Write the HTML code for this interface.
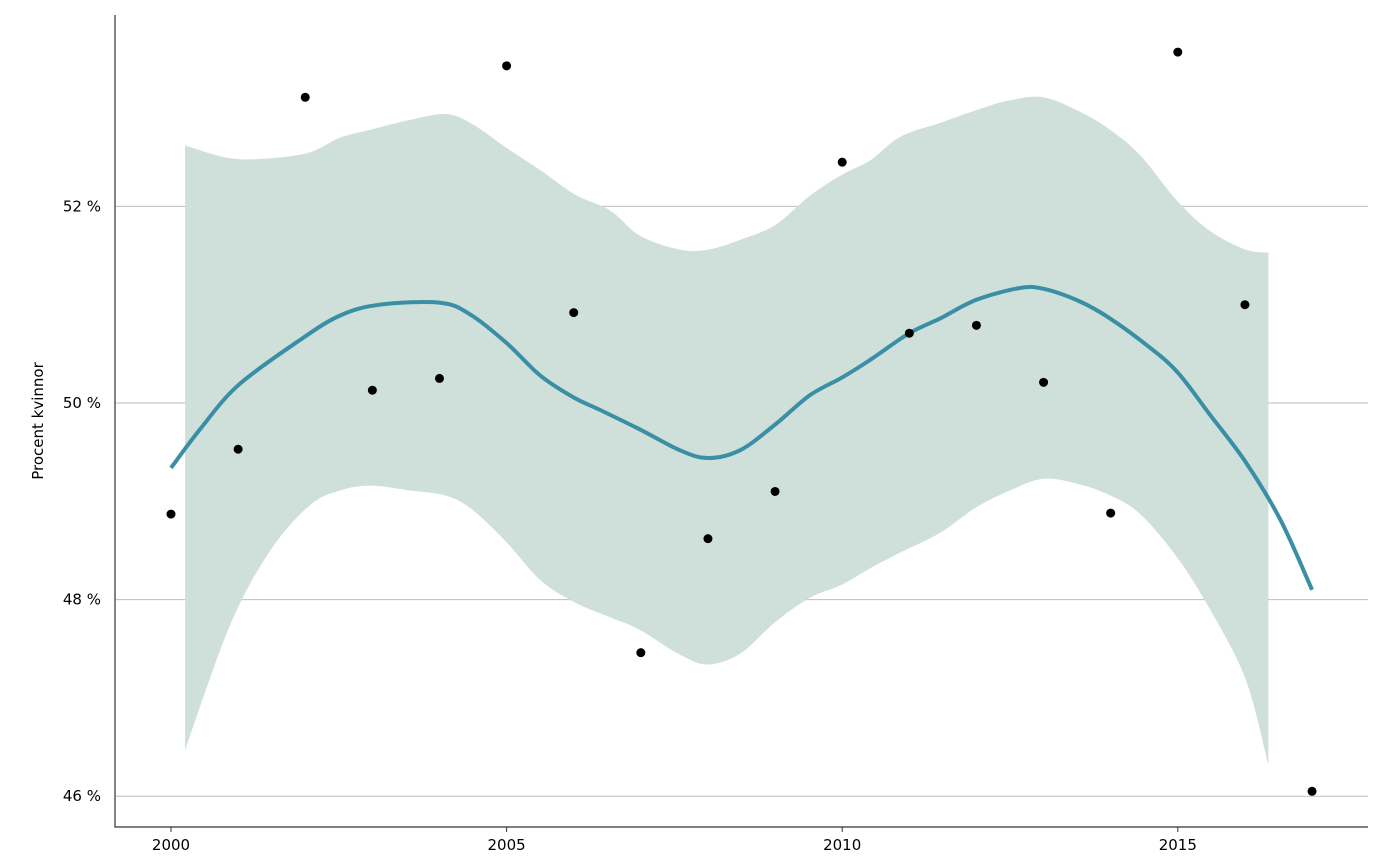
<!DOCTYPE html>
<html><head><meta charset="utf-8"><style>
body{margin:0;background:#fff}
svg{display:block;font-family:"DejaVu Sans","Liberation Sans",sans-serif}
</style></head><body>
<svg id="chart" width="1400" height="866">
<g id="grid"></g>
<g id="band"></g>
<g id="line"></g>
<g id="pts"></g>
<g id="axes"></g>
<text x="43" y="421" transform="rotate(-90 43 421)" text-anchor="middle" font-size="15">Procent kvinnor</text>
</svg>
<script>
const years=[2000,2001,2002,2003,2004,2005,2006,2007,2008,2009,2010,2011,2012,2013,2014,2015,2016,2017];
const values=[48.87,49.53,53.11,50.13,50.25,53.43,50.92,47.46,48.62,49.10,52.45,50.71,50.79,50.21,48.88,53.57,51.00,46.05];
const lineYears=[2000,2000.43,2001,2001.92,2002.52,2003.11,2004.01,2004.46,2005,2005.5,2005.99,2006.39,2006.99,2007.58,2008,2008.48,2009,2009.52,2010,2010.42,2011,2011.46,2012,2012.65,2013.01,2013.55,2013.99,2014.59,2015,2015.48,2016.01,2016.53,2017];
const lineValues=[49.34,49.73,50.18,50.64,50.89,51.00,51.02,50.90,50.61,50.28,50.06,49.93,49.73,49.52,49.44,49.52,49.78,50.08,50.26,50.44,50.71,50.86,51.05,51.17,51.16,51.03,50.86,50.56,50.31,49.88,49.40,48.81,48.10];
const bandYears=[2000.21,2000.88,2001.48,2002.07,2002.52,2002.97,2003.56,2004.08,2004.46,2004.99,2005.5,2006.02,2006.54,2006.99,2007.58,2008,2008.48,2009,2009.52,2009.99,2010.42,2010.87,2011.46,2012,2012.5,2013,2013.55,2013.99,2014.44,2015,2015.48,2016.01,2016.35];
const bandUpper=[52.62,52.49,52.49,52.55,52.70,52.78,52.88,52.94,52.85,52.60,52.37,52.12,51.96,51.70,51.56,51.56,51.66,51.81,52.11,52.32,52.47,52.71,52.85,52.98,53.08,53.11,52.96,52.78,52.52,52.05,51.75,51.56,51.53];
const bandLower=[46.47,47.74,48.50,48.96,49.11,49.16,49.11,49.06,48.93,48.59,48.20,47.97,47.82,47.69,47.44,47.34,47.45,47.77,48.02,48.15,48.32,48.48,48.68,48.94,49.11,49.23,49.17,49.06,48.87,48.42,47.90,47.19,46.32];
const xTicks=[2000,2005,2010,2015];
const yTicks=[46,48,50,52];
const yTickLabels=["46 %","48 %","50 %","52 %"];
const NS="http://www.w3.org/2000/svg";
const X=v=>171+(v-2000)*67.12;
const Y=v=>403-(v-50)*98.3;
function mk(tag,attrs,parent){const e=document.createElementNS(NS,tag);for(const k in attrs)e.setAttribute(k,attrs[k]);document.getElementById(parent).appendChild(e);return e;}
function curve(p,start){
  let d=(start?'M':'L')+p[0][0]+' '+p[0][1];
  for(let i=0;i<p.length-1;i++){
    const p0=p[Math.max(i-1,0)],p1=p[i],p2=p[i+1],p3=p[Math.min(i+2,p.length-1)];
    d+=' C'+(p1[0]+(p2[0]-p0[0])/6)+' '+(p1[1]+(p2[1]-p0[1])/6)+' '+(p2[0]-(p3[0]-p1[0])/6)+' '+(p2[1]-(p3[1]-p1[1])/6)+' '+p2[0]+' '+p2[1];
  }
  return d;
}
yTicks.forEach((t,i)=>{
  const l=mk('line',{x1:115,x2:1368,y1:Y(t),y2:Y(t),stroke:'#bdbdbd','stroke-width':1},'grid');
  
  
  const tx=mk('text',{x:101,y:Y(t)+5,'text-anchor':'end','font-size':15},'axes');
  tx.textContent=yTickLabels[i];
  
  
});
xTicks.forEach(t=>{
  const tk=mk('line',{x1:X(t),x2:X(t),y1:827,y2:832,stroke:'#333'},'axes');
  
  
  const tx=mk('text',{x:X(t),y:850,'text-anchor':'middle','font-size':15},'axes');
  tx.textContent=t;
  
  
});
const ax=mk('path',{d:'M115 15 V827 H1368',fill:'none',stroke:'#333','stroke-width':1.2},'axes');


const up=bandYears.map((y,i)=>[X(y),Y(bandUpper[i])]);
const lo=bandYears.map((y,i)=>[X(y),Y(bandLower[i])]).reverse();
const bp=mk('path',{d:curve(up,true)+' '+curve(lo,false)+' Z',fill:'#cfe0db'},'band');


const lp=mk('path',{d:curve(lineYears.map((y,i)=>[X(y),Y(lineValues[i])]),true),fill:'none',stroke:'#3a8fa5','stroke-width':4,'stroke-linejoin':'round'},'line');


years.forEach((y,i)=>{
  const c=mk('circle',{cx:X(y),cy:Y(values[i]),r:4.5,fill:'#000'},'pts');
  
  
});
</script>
</body></html>
